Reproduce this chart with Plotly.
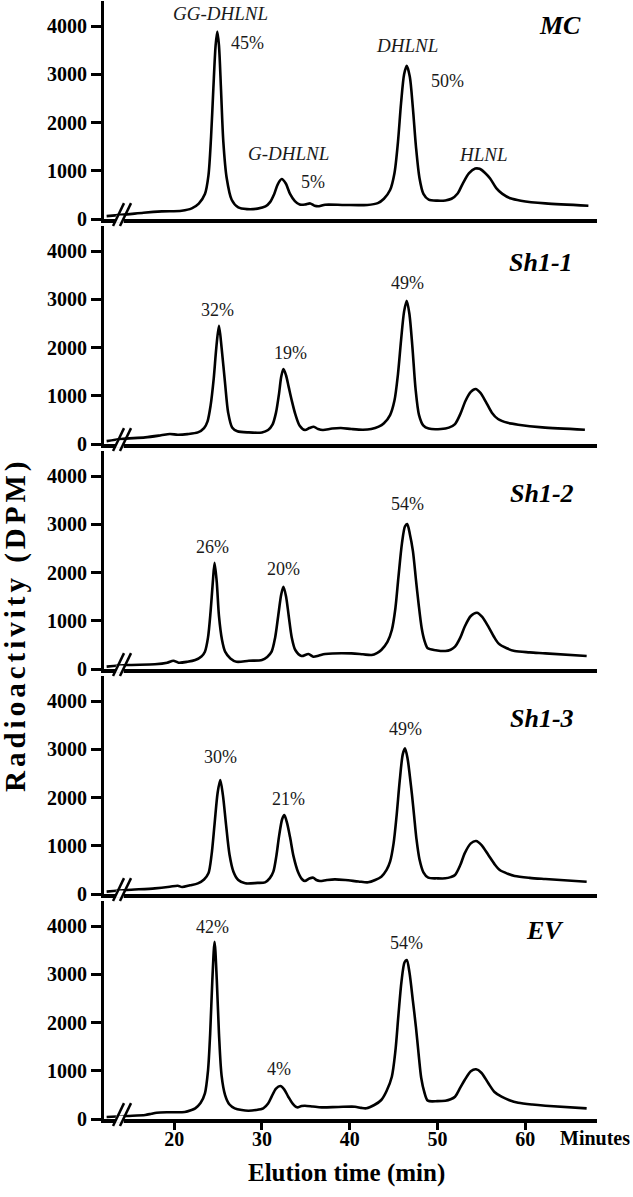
import plotly.graph_objects as go
from plotly.subplots import make_subplots

# ---------------- data (elution time in min, radioactivity in DPM) ----------------
samples = ["MC", "Sh1-1", "Sh1-2", "Sh1-3", "EV"]

t_mc = [12.3, 14.6, 16.5, 18.6, 20.85, 22.0, 22.8, 23.5, 23.9, 24.2, 24.46, 24.72, 24.91, 25.1, 25.33,
        25.6, 25.98, 26.55, 27.3, 28.3, 29.5, 30.4, 30.9, 31.4, 31.8, 32.25, 32.7, 33.2, 33.75, 34.3,
        34.9, 35.5, 36.0, 36.5, 37.2, 39.45, 42.0, 43.2, 43.9, 44.6, 45.1, 45.5, 45.85, 46.2, 46.5,
        46.85, 47.2, 47.55, 47.95, 48.4, 49.0, 50.0, 50.9, 51.6, 52.3, 52.9, 53.6, 54.3, 54.8, 55.4,
        56.0, 56.7, 57.4, 58.3, 59.5, 62.3, 67.2]
v_mc = [60, 95, 130, 158, 172, 220, 320, 518, 900, 1700, 2700, 3600, 3888, 3600, 2700,
        1600, 850, 400, 240, 205, 215, 260, 344, 520, 720, 829, 740, 520, 370, 300,
        300, 323, 275, 265, 296, 290, 292, 330, 420, 600, 950, 1600, 2400, 3000, 3177,
        2950, 2300, 1500, 850, 520, 400, 380, 385, 420, 530, 740, 950, 1045, 1040, 960,
        840, 640, 520, 430, 380, 323, 276]

t_sh1 = [12.3, 13.95, 16.7, 18.5, 19.5, 20.4, 21.5, 22.7, 23.4, 23.8, 24.15, 24.5, 24.8, 25.1, 25.4,
         25.8, 26.15, 26.6, 27.2, 28.5, 30.0, 30.7, 31.2, 31.6, 31.95, 32.2, 32.45, 32.75, 33.05, 33.4,
         33.8, 34.3, 34.9, 35.4, 35.9, 36.4, 36.95, 38.0, 39.0, 40.2, 41.5, 42.45, 43.3, 43.9, 44.6,
         45.1, 45.5, 45.85, 46.2, 46.5, 46.8, 47.15, 47.5, 47.9, 48.4, 49.0, 50.4, 51.3, 52.0, 52.6,
         53.2, 53.8, 54.35, 54.9, 55.5, 56.2, 56.9, 58.0, 59.2, 61.95, 66.8]
v_sh1 = [60, 104, 137, 180, 207, 193, 205, 240, 330, 470, 800, 1350, 2000, 2450, 2000,
         1250, 650, 344, 265, 240, 240, 290, 400, 650, 1050, 1400, 1554, 1420, 1180, 900,
         620, 380, 290, 330, 359, 310, 290, 320, 331, 310, 296, 311, 360, 430, 600,
         900, 1450, 2150, 2750, 2970, 2700, 2000, 1150, 600, 380, 320, 311, 340, 414, 620,
         897, 1080, 1140, 1060, 880, 650, 518, 440, 400, 344, 296]

t_sh2 = [12.3, 14.6, 17.8, 19.2, 19.9, 20.5, 21.5, 22.4, 23.1, 23.5, 23.85, 24.15, 24.4, 24.6, 24.85,
         25.1, 25.45, 25.8, 26.4, 27.1, 28.5, 30.0, 30.6, 31.1, 31.5, 31.85, 32.2, 32.45, 32.75, 33.05,
         33.4, 33.8, 34.5, 35.3, 35.85, 36.5, 37.2, 40.2, 41.5, 42.5, 43.1, 43.6, 44.3, 44.8, 45.2,
         45.55, 45.95, 46.3, 46.55, 46.85, 47.2, 47.55, 47.85, 48.2, 48.5, 48.9, 49.8, 50.9, 51.5, 52.0,
         52.6, 53.1, 53.8, 54.5, 55.1, 55.8, 56.4, 56.95, 57.9, 58.8, 60.5, 62.3, 67.0]
v_sh2 = [50, 83, 97, 130, 172, 131, 150, 187, 260, 359, 650, 1200, 1800, 2203, 1800,
         1100, 600, 359, 220, 151, 170, 187, 250, 359, 650, 1100, 1550, 1706, 1500, 1100,
         650, 394, 269, 311, 255, 280, 311, 325, 305, 290, 330, 394, 560, 808, 1250,
         1900, 2600, 2960, 3005, 2800, 2450, 1850, 1350, 850, 600, 428, 390, 373, 400, 462,
         650, 877, 1100, 1167, 1080, 877, 680, 532, 430, 373, 345, 325, 269]

t_sh3 = [12.3, 14.6, 17.8, 19.5, 20.4, 20.9, 21.8, 22.7, 23.4, 23.9, 24.25, 24.6, 24.95, 25.25, 25.55,
         25.9, 26.3, 26.75, 27.3, 28.1, 29.5, 30.35, 30.9, 31.3, 31.65, 31.95, 32.3, 32.55, 32.85, 33.2,
         33.6, 34.1, 34.6, 34.9, 35.4, 35.85, 36.2, 36.6, 37.4, 38.3, 39.5, 41.0, 42.1, 42.9, 43.6,
         44.2, 44.6, 45.0, 45.35, 45.7, 46.05, 46.3, 46.6, 46.85, 47.1, 47.35, 47.6, 47.95, 48.4, 48.95,
         50.0, 50.9, 51.5, 52.0, 52.6, 53.1, 53.8, 54.4, 55.0, 55.8, 56.5, 57.1, 58.0, 58.8, 60.5,
         62.3, 67.0]
v_sh3 = [50, 83, 117, 150, 172, 145, 180, 221, 300, 428, 800, 1450, 2100, 2363, 2050,
         1450, 820, 463, 290, 221, 230, 242, 330, 463, 800, 1200, 1550, 1637, 1480, 1180,
         780, 463, 300, 269, 320, 338, 290, 269, 290, 304, 290, 260, 242, 290, 359,
         500, 670, 1050, 1637, 2350, 2900, 3019, 2800, 2450, 2050, 1600, 1150, 720, 450, 338,
         325, 325, 350, 394, 600, 843, 1050, 1098, 1020, 808, 620, 497, 420, 373, 335,
         311, 255]

t_ev = [12.3, 14.6, 16.7, 17.4, 18.0, 19.5, 21.2, 21.9, 22.4, 23.0, 23.5, 23.85, 24.1, 24.35, 24.6,
        24.85, 25.1, 25.4, 25.8, 26.3, 26.9, 27.7, 28.45, 29.3, 30.15, 30.7, 31.1, 31.6, 32.1, 32.55,
        33.0, 33.5, 34.0, 34.5, 34.9, 35.8, 36.8, 38.7, 40.6, 41.3, 41.9, 42.8, 43.6, 44.2, 44.8,
        45.2, 45.55, 45.9, 46.25, 46.5, 46.8, 47.2, 47.55, 47.85, 48.15, 48.5, 48.9, 50.0, 50.9, 51.5,
        52.0, 52.6, 53.1, 53.8, 54.4, 55.0, 55.8, 56.5, 57.3, 58.2, 59.2, 60.8, 62.3, 67.0]
v_ev = [40, 62, 83, 110, 131, 140, 145, 180, 221, 330, 532, 1000, 1776, 2900, 3675,
        2900, 1776, 900, 497, 300, 221, 185, 172, 185, 221, 320, 462, 630, 684, 610,
        462, 320, 242, 270, 276, 260, 242, 250, 255, 230, 221, 290, 394, 580, 877,
        1400, 2150, 2850, 3250, 3295, 3050, 2450, 1900, 1350, 850, 560, 380, 370, 380, 410,
        462, 650, 808, 990, 1030, 960, 740, 560, 462, 390, 338, 300, 276, 221]

times = [t_mc, t_sh1, t_sh2, t_sh3, t_ev]
values = [v_mc, v_sh1, v_sh2, v_sh3, v_ev]

# peak labels: (panel index, text, x in min, y in DPM, italic)
peak_labels = [
    (0, "GG-DHLNL", 25.22, 4269, True), (0, "45%", 28.3, 3648, False),
    (0, "G-DHLNL", 32.97, 1368, True), (0, "5%", 35.82, 767, False),
    (0, "DHLNL", 46.53, 3606, True), (0, "50%", 51.09, 2860, False),
    (0, "HLNL", 55.19, 1347, True),
    (1, "32%", 24.99, 2777, False), (1, "19%", 33.2, 1886, False), (1, "49%", 46.53, 3337, False),
    (2, "26%", 24.31, 2528, False), (2, "20%", 32.51, 2073, False), (2, "54%", 46.53, 3420, False),
    (3, "30%", 25.33, 2839, False), (3, "21%", 32.97, 1969, False), (3, "49%", 46.3, 3420, False),
    (4, "42%", 24.42, 3979, False), (4, "4%", 31.94, 1036, False), (4, "54%", 46.42, 3648, False),
]
sample_label_pos = [(63.97, 4021), (61.8, 3772), (61.9, 3648), (61.9, 3648), (62.26, 3917)]

y_ticks = [0, 1000, 2000, 3000, 4000]
x_ticks = [20, 30, 40, 50, 60]

# ---------------- figure ----------------
SERIF = "Liberation Serif, Times New Roman, serif"
W, H = 633, 1197
L, R, T, B = 104, 36, 1, 78

fig = make_subplots(rows=5, cols=1, shared_xaxes=True, vertical_spacing=7 / 1118)

for i in range(5):
    fig.add_trace(go.Scatter(x=times[i], y=values[i], mode="lines",
                             line=dict(color="black", width=2.6, shape="spline", smoothing=0.8),
                             showlegend=False, hoverinfo="skip"), row=i + 1, col=1)

for i in range(5):
    r = i + 1
    last = (r == 5)
    fig.update_xaxes(row=r, col=1, range=[12.0, 68.18], showline=True, linewidth=3.5,
                     linecolor="black", showgrid=False, zeroline=False,
                     ticks="outside" if last else "", ticklen=7, tickwidth=2.5, tickcolor="black",
                     tickvals=x_ticks, showticklabels=last, ticklabelstandoff=-8,
                     tickfont=dict(family=SERIF, size=20, color="black", weight="bold"))
    fig.update_yaxes(row=r, col=1, range=[0, 4520], showline=True, linewidth=3,
                     linecolor="black", showgrid=False, zeroline=False,
                     ticks="outside", ticklen=10, tickwidth=2.5, tickcolor="black",
                     tickvals=y_ticks,
                     tickfont=dict(family=SERIF, size=20, color="black", weight="bold"))

ann = []
for (p, txt, x, y, ital) in peak_labels:
    ax = "" if p == 0 else str(p + 1)
    ann.append(dict(x=x, y=y, xref="x" + ax, yref="y" + ax, text=txt, showarrow=False,
                    font=dict(family=SERIF, size=19 if ital else 18, color="#1a1a1a",
                              style="italic" if ital else "normal")))
for p, name in enumerate(samples):
    ax = "" if p == 0 else str(p + 1)
    x, y = sample_label_pos[p]
    ann.append(dict(x=x, y=y, xref="x" + ax, yref="y" + ax, text=name, showarrow=False,
                    font=dict(family=SERIF, size=26, color="black", weight="bold", style="italic")))

pw = W - L - R
ph = H - T - B
def px(xp):
    return (xp - L) / pw
def py(yp):
    return 1 - (yp - T) / ph

ann.append(dict(x=px(632), y=py(1138), xref="paper", yref="paper", text="Minutes",
                showarrow=False, xanchor="right", yanchor="middle",
                font=dict(family=SERIF, size=20, color="black", weight="bold")))
ann.append(dict(x=px(346), y=py(1173), xref="paper", yref="paper", text="Elution time (min)",
                showarrow=False, xanchor="center", yanchor="middle",
                font=dict(family=SERIF, size=25, color="black", weight="bold")))
ann.append(dict(x=px(15), y=py(625), xref="paper", yref="paper",
                text='<span style="letter-spacing:4px">Radioactivity (DPM)</span>',
                showarrow=False, textangle=-90, xanchor="center", yanchor="middle",
                font=dict(family=SERIF, size=29, color="black", weight="bold")))

shapes = []
for i in range(5):
    ax = "" if i == 0 else str(i + 1)
    xr = "x" + ax
    yr = "y" + ax + " domain"
    shapes.append(dict(type="rect", xref=xr, yref=yr, x0=13.35, x1=14.25, y0=-0.018, y1=0.016,
                       fillcolor="white", line=dict(width=0), layer="above"))
    shapes.append(dict(type="line", xref=xr, yref=yr, x0=13.03, x1=14.28, y0=-0.032, y1=0.073,
                       line=dict(color="black", width=2.5), layer="above"))
    shapes.append(dict(type="line", xref=xr, yref=yr, x0=13.82, x1=15.08, y0=-0.032, y1=0.073,
                       line=dict(color="black", width=2.5), layer="above"))

fig.update_layout(width=W, height=H, margin=dict(l=L, r=R, t=T, b=B),
                  paper_bgcolor="white", plot_bgcolor="white",
                  annotations=ann, shapes=shapes, showlegend=False)

fig.write_html("out.html", config={"displayModeBar": False},
               post_script="document.body.style.margin='0px';document.body.style.padding='0px';")
